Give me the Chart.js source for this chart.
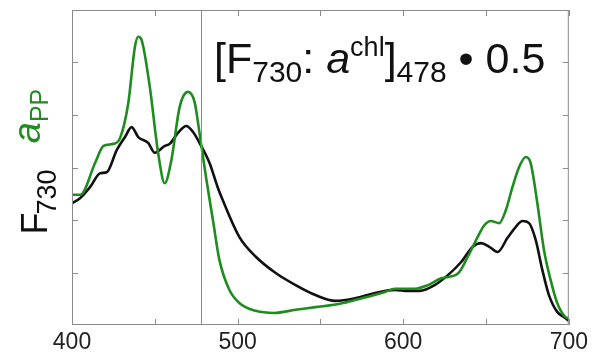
<!DOCTYPE html>
<html><head><meta charset="utf-8">
<script src="https://cdn.jsdelivr.net/npm/chart.js@4.4.1/dist/chart.umd.min.js"></script>
<style>
html,body{margin:0;padding:0;background:#fff;}
#wrap{position:relative;width:592px;height:354px;font-family:"Liberation Sans",Arial,sans-serif;}
canvas{position:absolute;left:0;top:0;}
.lbl{position:absolute;white-space:nowrap;line-height:1;}
.rot{transform:translate(-50%,-50%) rotate(-90deg);}
sub,sup{line-height:0;}
</style>
</head><body>
<div id="wrap">
<canvas id="c" width="592" height="354"></canvas>
<div class="lbl" id="title" style="left:214px;top:37px;font-size:43px;color:#111;">[F<sub style="font-size:30px;vertical-align:-9px;">730</sub>: <i>a</i><sup style="font-size:27px;vertical-align:17px;">chl</sup>]<sub style="font-size:30px;vertical-align:-9px;">478</sub> • 0.5</div>
<div class="lbl rot" id="yF" style="left:35px;top:202px;font-size:36px;color:#111;">F<sub style="font-size:27px;vertical-align:-9px;margin-left:-2px;">730</sub></div>
<div class="lbl rot" id="yA" style="left:27px;top:116px;font-size:38px;color:#1e8c1e;"><i>a</i><sub style="font-size:25px;vertical-align:-8px;">PP</sub></div>
</div>
<script>
// ---- data ----
const wavelengthsA = [400,405,414,419,425,429,434,438,440,442,447,452,456,460,465,470,474,477,481,485,489,495,501,511,522,535,547,561,575,589,595,607,615,623,633,639,645,649,653,658,662,666,670,674,677,681,685,689,693,698,700];
const aPP          = [2.48,2.48,3.09,3.41,3.45,3.56,4.23,5.30,5.49,5.43,4.53,3.28,2.70,3.14,4.15,4.44,4.25,3.66,2.80,2.02,1.24,0.67,0.42,0.27,0.23,0.29,0.34,0.40,0.51,0.63,0.69,0.69,0.76,0.89,0.98,1.30,1.68,1.90,1.98,1.94,2.19,2.63,3.01,3.20,3.08,2.32,1.43,0.86,0.42,0.15,0.13];
const wavelengthsF = [400,405,411,417,421,427,432,436,440,446,450,456,459,464,469,473,477,483,488,491,501,511,523,535,547,559,571,583,595,603,610,619,627,635,642,647,652,657,663,668,672,676,680,684,688,693,698,700];
const F730         = [2.32,2.42,2.63,2.89,2.91,3.33,3.58,3.77,3.58,3.47,3.28,3.41,3.45,3.66,3.79,3.68,3.47,3.09,2.62,2.38,1.68,1.30,0.99,0.76,0.57,0.46,0.51,0.61,0.67,0.65,0.65,0.76,0.95,1.20,1.49,1.56,1.49,1.39,1.66,1.87,1.98,1.94,1.62,1.05,0.57,0.25,0.13,0.08];
const xTickValues  = [400,500,600,700];
const markerWavelength = 478;

const toPts = (xs, ys) => xs.map((x,i)=>({x:x,y:ys[i]}));

const frame = {
  id:'frame',
  afterDatasetsDraw(chart){
    const {ctx, chartArea:a, scales:{x,y}} = chart;
    ctx.save();
    ctx.strokeStyle='#8a8a8a'; ctx.lineWidth=1;
    ctx.strokeRect(a.left+0.5, a.top+0.5, a.right-a.left-1, a.bottom-a.top-1);
    const L=6;
    ctx.beginPath();
    for(let v=400; v<=700; v+=50){
      const px=Math.round(x.getPixelForValue(v))+0.5;
      ctx.moveTo(px,a.bottom); ctx.lineTo(px,a.bottom-L);
      ctx.moveTo(px,a.top); ctx.lineTo(px,a.top+L);
    }
    for(let v=1; v<=5; v++){
      const py=Math.round(y.getPixelForValue(v))+0.5;
      ctx.moveTo(a.left,py); ctx.lineTo(a.left+L,py);
      ctx.moveTo(a.right,py); ctx.lineTo(a.right-L,py);
    }
    const mx=Math.round(x.getPixelForValue(markerWavelength))+0.5;
    ctx.moveTo(mx,a.top); ctx.lineTo(mx,a.bottom);
    ctx.stroke();
    ctx.restore();
  }
};

new Chart(document.getElementById('c'), {
  type:'line',
  data:{datasets:[
    {label:'F730', data:toPts(wavelengthsF,F730), borderColor:'#111111', borderWidth:2.6, pointRadius:0, cubicInterpolationMode:'monotone', fill:false, order:2},
    {label:'aPP', data:toPts(wavelengthsA,aPP), borderColor:'#1e8c1e', borderWidth:2.6, pointRadius:0, cubicInterpolationMode:'monotone', fill:false, order:1}
  ]},
  options:{
    responsive:false, animation:false,
    layout:{padding:{left:0,right:20,top:10,bottom:0}},
    plugins:{legend:{display:false}, tooltip:{enabled:false}},
    scales:{
      x:{type:'linear', min:400, max:700,
         grid:{display:false, drawTicks:false}, border:{display:false},
         afterBuildTicks(s){ s.ticks = xTickValues.map(v=>({value:v})); },
         afterFit(s){ s.height=29; },
         ticks:{padding:4, color:'#222', font:{family:'"Liberation Sans", Arial, sans-serif', size:23}, maxRotation:0}},
      y:{min:0, max:6,
         grid:{display:false, drawTicks:false}, border:{display:false},
         ticks:{display:false},
         afterFit(s){ s.width=72; }}
    }
  },
  plugins:[frame]
});
</script>
</body></html>
